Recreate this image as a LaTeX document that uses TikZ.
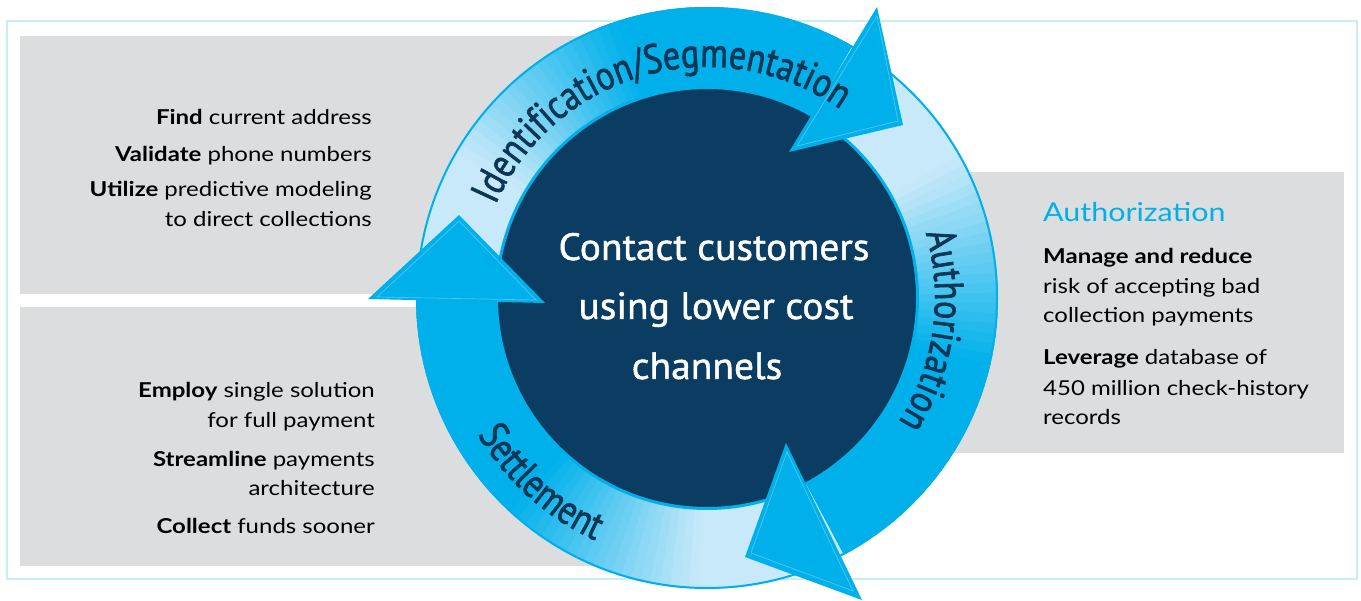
\documentclass[tikz,border=0pt]{standalone}
\usepackage{fontspec}
\setmainfont{Lato}[FakeStretch=1.17]
\newfontfamily\ptsans{PT Sans}[FakeBold=1.2, FakeStretch=1.04]
\newfontfamily\ringfont{PT Sans}[FakeStretch=0.83, FakeBold=1.6]
\usetikzlibrary{decorations.text}
\definecolor{ringcyan}{HTML}{00B0EB}
\definecolor{ringlight}{HTML}{C8E9F9}
\definecolor{navy}{HTML}{0A3D61}
\definecolor{textnavy}{HTML}{0B3757}
\definecolor{boxgray}{HTML}{DCDDDF}
\definecolor{framecol}{HTML}{C9ECFA}
\begin{document}
\begin{tikzpicture}[x=1pt,y=1pt,
  sidetext/.style={inner sep=0pt, font=\fontsize{20.5}{24}\selectfont, text=black},
  lefttext/.style={sidetext, anchor=base east},
  righttext/.style={sidetext, anchor=base west},
  centertext/.style={inner sep=0pt, anchor=base, text=white, font=\ptsans\fontsize{38}{40}\selectfont},
  arrowhead/.style={fill=ringcyan},
  arrowedge/.style={draw=white, draw opacity=0.3, line width=0.7},
  ringlabel/.style={decorate, decoration={text along path, text align=center, text color=textnavy, text={|\ringfont\fontsize{41}{43}\selectfont|#1}}}
]
\useasboundingbox (0,0) rectangle (1361,-601);
\fill[white] (0,0) rectangle (1361,-601);
% frame and gray panels
\draw[framecol, line width=2, fill=white] (7,-21) rectangle (1357,-579);
\fill[boxgray] (20,-36) rectangle (700,-294);
\fill[boxgray] (20,-307) rectangle (700,-566);
\fill[boxgray] (900,-172) rectangle (1344,-453);
% ring bands with angular gradient
\begin{scope}[shift={(707,-298)}]
\foreach \st/\en in {180/60, 60/-62, -62/-180}{
  \foreach \i in {0,...,59}{
    \pgfmathsetmacro\aa{\st+(\en-\st)*\i/60}
    \pgfmathsetmacro\ab{\st+(\en-\st)*min(60,\i+1.4)/60}
    \pgfmathtruncatemacro\m{100*min(1,max(0,((\i+0.5)/60-0.25)/0.35))}
    \fill[ringcyan!\m!ringlight] (\aa:210) arc[start angle=\aa, end angle=\ab, radius=210]
      -- (\ab:291) arc[start angle=\ab, end angle=\aa, radius=291] -- cycle;
  }
}
\fill[navy] (0,0) circle[radius=210];
\draw[ringcyan, line width=3] (0,0) circle[radius=210.5];
\draw[ringcyan, line width=2] (0,0) circle[radius=290];
\end{scope}
% arrowheads
\fill[arrowhead] (459,-215) -- (368,-299) -- (545,-303) -- cycle;
\fill[arrowhead] (877,-7) -- (903,-125) -- (789,-152) -- cycle;
\fill[arrowhead] (786,-443) -- (745,-557) -- (862,-600) -- cycle;
\path[arrowedge] (459,-221) -- (377,-297) -- (536,-300) -- cycle;
\path[arrowedge] (877,-16) -- (898,-121) -- (797,-146) -- cycle;
\path[arrowedge] (787,-452) -- (751,-553) -- (853,-591) -- cycle;
% ring labels
\path[ringlabel={Identification/Segmentation}] (707,-298) ++(165:231) arc[start angle=165, end angle=46, radius=231];
\path[ringlabel={Authorization}] (707,-298) ++(51.8:228) arc[start angle=51.8, end angle=-68.2, radius=228];
\path[ringlabel={Settlement}] (707,-298) ++(-192:267) arc[start angle=-192, end angle=-72, radius=267];
% center text
\node[centertext] (c1) at (714,-260) {Contact customers};
\node[centertext] (c2) at (716,-319) {using lower cost};
\node[centertext] (c3) at (707,-379) {channels};
% left top panel
\node[lefttext] (l1) at (372,-125) {\textbf{Find} current address};
\node[lefttext] (l2) at (372,-162) {\textbf{Validate} phone numbers};
\node[lefttext] (l3) at (372,-197) {\textbf{Utilize} predictive modeling};
\node[lefttext] (l4) at (372,-227) {to direct collections};
% left bottom panel
\node[lefttext] (b1) at (375,-398) {\textbf{Employ} single solution};
\node[lefttext] (b2) at (375,-428) {for full payment};
\node[lefttext] (b3) at (375,-467) {\textbf{Streamline} payments};
\node[lefttext] (b4) at (375,-496) {architecture};
\node[lefttext] (b5) at (375,-533) {\textbf{Collect} funds sooner};
% right panel
\node[righttext, text=ringcyan, font=\fontsize{26}{30}\selectfont] (r0) at (1043,-222) {Authorization};
\node[righttext] (r1) at (1043,-264) {\textbf{Manage and reduce}};
\node[righttext] (r2) at (1043,-294) {risk of accepting bad};
\node[righttext] (r3) at (1043,-323) {collection payments};
\node[righttext] (r4) at (1043,-365) {\textbf{Leverage} database of};
\node[righttext] (r5) at (1043,-396) {450 million check-history};
\node[righttext] (r6) at (1043,-425) {records};
\end{tikzpicture}
\end{document}
